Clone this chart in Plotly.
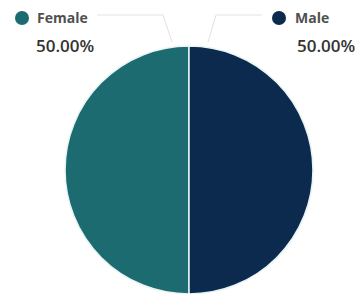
import plotly.graph_objects as go

labels = ["Female", "Male"]
values = [50, 50]
colors = ["#1b6b70", "#0b2a4e"]

W, H = 362, 294
fig = go.Figure(go.Pie(
    labels=labels, values=values, sort=False, direction="clockwise",
    rotation=180, marker=dict(colors=colors, line=dict(color="#e8f4f4", width=1.5)),
    textinfo="none", hoverinfo="label+percent",
    domain=dict(x=[65 / W, 313 / W], y=[0, 248 / H]),
))

total = sum(values)
pcts = [f"{v / total * 100:.2f}%" for v in values]

def px(x):
    return x / W

def py(y):
    return 1 - y / H

# leader lines (light gray)
line_style = dict(color="#e2e2e2", width=1)
fig.add_shape(type="path", path=f"M {px(97)} {py(15)} L {px(163)} {py(15)} L {px(172)} {py(42)}",
              xref="paper", yref="paper", line=line_style)
fig.add_shape(type="path", path=f"M {px(262)} {py(15)} L {px(216)} {py(15)} L {px(208)} {py(42)}",
              xref="paper", yref="paper", line=line_style)

# legend dots
fig.add_shape(type="circle", xref="paper", yref="paper",
              x0=px(15), x1=px(29), y0=py(25), y1=py(11), fillcolor=colors[0], line=dict(width=0))
fig.add_shape(type="circle", xref="paper", yref="paper",
              x0=px(272), x1=px(286), y0=py(25), y1=py(11), fillcolor=colors[1], line=dict(width=0))

font_lbl = dict(family="Open Sans", size=14, color="#505050")
font_pct = dict(family="Open Sans", size=17, color="#333333", weight=600)
fig.add_annotation(x=px(35), y=py(18), xref="paper", yref="paper", text=f"<b>{labels[0]}</b>",
                   showarrow=False, xanchor="left", yanchor="middle", font=font_lbl)
fig.add_annotation(x=px(34), y=py(46), xref="paper", yref="paper", text=pcts[0],
                   showarrow=False, xanchor="left", yanchor="middle", font=font_pct)
fig.add_annotation(x=px(293), y=py(18), xref="paper", yref="paper", text=f"<b>{labels[1]}</b>",
                   showarrow=False, xanchor="left", yanchor="middle", font=font_lbl)
fig.add_annotation(x=px(295), y=py(46), xref="paper", yref="paper", text=pcts[1],
                   showarrow=False, xanchor="left", yanchor="middle", font=font_pct)

fig.update_layout(width=W, height=H, margin=dict(l=0, r=0, t=0, b=0),
                  showlegend=False, paper_bgcolor="white", plot_bgcolor="white")
fig.write_html("out.html", config={"displayModeBar": False},
               post_script="document.body.style.margin='0px';document.body.style.overflow='hidden';")
